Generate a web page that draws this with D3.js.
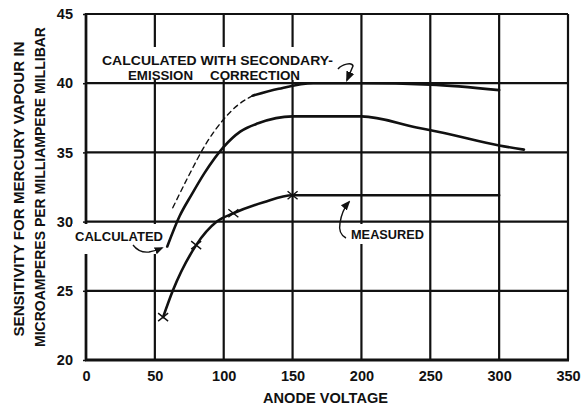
<!DOCTYPE html>
<html>
<head>
<meta charset="utf-8">
<script src="https://cdn.jsdelivr.net/npm/d3@7"></script>
<style>
  html, body { margin: 0; padding: 0; background: #fff; }
  svg { display: block; }
  text { font-family: "Liberation Sans", Arial, sans-serif; fill: #111; }
</style>
</head>
<body>
<svg id="chart" width="586" height="408"></svg>
<script>
// Anode voltage ticks and sensitivity ticks
const xTicks = [0, 50, 100, 150, 200, 250, 300, 350];
const yTicks = [20, 25, 30, 35, 40, 45];

// Measured sensitivity (crosses mark the measured points)
const measuredV = [56, 63, 80, 95, 107, 129, 150, 200, 250, 300];
const measuredS = [23.1, 25.0, 28.3, 30.0, 30.6, 31.4, 31.9, 31.9, 31.9, 31.9];
const measuredMarkV = [56, 80, 107, 150];
const measuredMarkS = [23.1, 28.3, 30.6, 31.9];

// Calculated sensitivity
const calcV = [59, 68, 77, 86, 100, 112, 125, 150, 200, 240, 260, 300, 318];
const calcS = [28.2, 30.4, 32.0, 33.5, 35.4, 36.5, 37.1, 37.6, 37.6, 36.8, 36.4, 35.5, 35.2];

// Calculated with secondary-emission correction (dashed part, then solid part)
const corrDashV = [63, 74, 87, 100, 110, 121];
const corrDashS = [31.0, 33.2, 35.6, 37.4, 38.4, 39.1];
const corrSolidV = [121, 140, 165, 200, 250, 300];
const corrSolidS = [39.1, 39.6, 40.0, 40.0, 39.9, 39.5];

const svg = d3.select("#chart");
const x = d3.scaleLinear().domain([0, 350]).range([86, 568]);
const y = d3.scaleLinear().domain([20, 45]).range([360, 14]);

// arrowhead marker
svg.append("defs").append("marker")
  .attr("id", "arrow").attr("viewBox", "0 0 10 10")
  .attr("refX", 8).attr("refY", 5)
  .attr("markerWidth", 7).attr("markerHeight", 7)
  .attr("orient", "auto-start-reverse")
  .append("path").attr("d", "M0,1 L10,5 L0,9 z").attr("fill", "#111");

// grid
const grid = svg.append("g").attr("stroke", "#111").attr("stroke-width", 2.2);
grid.selectAll("line.v").data(xTicks).join("line")
  .attr("x1", d => x(d)).attr("x2", d => x(d))
  .attr("y1", y(45)).attr("y2", y(20));
grid.selectAll("line.h").data(yTicks).join("line")
  .attr("x1", x(0)).attr("x2", x(350))
  .attr("y1", d => y(d)).attr("y2", d => y(d));
// heavier base and left axis lines
svg.append("line").attr("x1", x(0) - 1).attr("x2", x(350) + 1)
  .attr("y1", y(20)).attr("y2", y(20))
  .attr("stroke", "#111").attr("stroke-width", 3.2);
svg.append("line").attr("x1", x(0)).attr("x2", x(0))
  .attr("y1", y(45) - 1).attr("y2", y(20) + 1)
  .attr("stroke", "#111").attr("stroke-width", 2.6);

// axes (labels only, small left ticks)
const yAxis = svg.append("g").attr("transform", `translate(${x(0)},0)`)
  .call(d3.axisLeft(y).tickValues(yTicks).tickSize(3).tickPadding(10));
yAxis.select(".domain").remove();
yAxis.selectAll("line").attr("stroke", "#111").attr("stroke-width", 1.5);
yAxis.selectAll("text").attr("font-size", 14.5).attr("font-weight", 700)
  .style("font-family", "'Liberation Sans', Arial, sans-serif").attr("fill", "#111");

const xAxis = svg.append("g").attr("transform", `translate(0,${y(20)})`)
  .call(d3.axisBottom(x).tickValues(xTicks).tickSize(0).tickPadding(11));
xAxis.select(".domain").remove();
xAxis.selectAll("text").attr("font-size", 14.5).attr("font-weight", 700)
  .style("font-family", "'Liberation Sans', Arial, sans-serif").attr("fill", "#111");

// axis titles
svg.append("text").attr("x", 325.5).attr("y", 403).attr("text-anchor", "middle")
  .attr("font-size", 14).attr("font-weight", 700)
  .attr("textLength", 125).attr("lengthAdjust", "spacingAndGlyphs")
  .text("ANODE VOLTAGE");
svg.append("text").attr("transform", "translate(23.5,189) rotate(-90)")
  .attr("text-anchor", "middle").attr("font-size", 15).attr("font-weight", 700)
  .attr("textLength", 295).attr("lengthAdjust", "spacingAndGlyphs")
  .text("SENSITIVITY FOR MERCURY VAPOUR IN");
svg.append("text").attr("transform", "translate(45,187) rotate(-90)")
  .attr("text-anchor", "middle").attr("font-size", 15).attr("font-weight", 700)
  .attr("textLength", 320).attr("lengthAdjust", "spacingAndGlyphs")
  .text("MICROAMPERES PER MILLIAMPERE MILLIBAR");

// curves
const zip = (a, b) => a.map((v, i) => [v, b[i]]);
const line = d3.line().x(d => x(d[0])).y(d => y(d[1])).curve(d3.curveMonotoneX);
const curves = svg.append("g").attr("fill", "none").attr("stroke", "#111")
  .attr("stroke-linecap", "round");
curves.append("path").attr("d", line(zip(measuredV, measuredS))).attr("stroke-width", 2.6);
curves.append("path").attr("d", line(zip(calcV, calcS))).attr("stroke-width", 2.6);
curves.append("path").attr("d", line(zip(corrDashV, corrDashS)))
  .attr("stroke-width", 1.4).attr("stroke-dasharray", "5,4");
curves.append("path").attr("d", line(zip(corrSolidV, corrSolidS))).attr("stroke-width", 2.6);

// measured point crosses
svg.append("g").selectAll("path").data(zip(measuredMarkV, measuredMarkS)).join("path")
  .attr("d", "M-5,-4L5,4M-5,4L5,-4")
  .attr("transform", d => `translate(${x(d[0])},${y(d[1])})`)
  .attr("fill", "none").attr("stroke", "#111").attr("stroke-width", 1.4);

// annotations
const ann = svg.append("g");
const label = (tx, ty, len, str, size) => ann.append("text")
  .attr("x", tx).attr("y", ty).attr("font-size", size).attr("font-weight", 700)
  .attr("textLength", len).attr("lengthAdjust", "spacingAndGlyphs").text(str);

ann.append("rect").attr("x", 98).attr("y", 47).attr("width", 239).attr("height", 33).attr("fill", "#fff");
label(102, 65, 231, "CALCULATED WITH SECONDARY-", 13.5);
label(128, 80, 65, "EMISSION", 13.5);
label(210, 80, 90, "CORRECTION", 13.5);
ann.append("path").attr("d", "M338,69 C342,64 352,62 353,66 L347,80")
  .attr("fill", "none").attr("stroke", "#111").attr("stroke-width", 1.5)
  .attr("marker-end", "url(#arrow)");

ann.append("rect").attr("x", 72).attr("y", 224).attr("width", 89).attr("height", 30).attr("fill", "#fff");
label(75, 241, 88, "CALCULATED", 13);
ann.append("path").attr("d", "M133,245 Q139,253 149,252 Q155,251 162,248")
  .attr("fill", "none").attr("stroke", "#111").attr("stroke-width", 1.3)
  .attr("marker-end", "url(#arrow)");

ann.append("rect").attr("x", 336).attr("y", 224).attr("width", 92).attr("height", 20).attr("fill", "#fff");
label(351, 238.5, 73, "MEASURED", 13);
ann.append("path").attr("d", "M346,238 Q338,234 340,223 Q342,210 349,202")
  .attr("fill", "none").attr("stroke", "#111").attr("stroke-width", 1.4)
  .attr("marker-end", "url(#arrow)");
</script>
</body>
</html>
